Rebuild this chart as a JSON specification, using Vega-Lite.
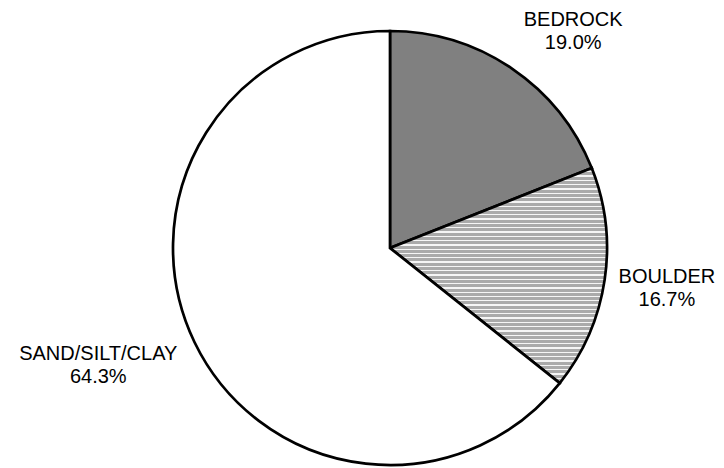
{
  "$schema": "https://vega.github.io/schema/vega-lite/v6.json",
  "width": 668,
  "height": 440,
  "autosize": {"type": "none"},
  "padding": {"left": 56, "top": 28, "right": 0, "bottom": 0},
  "background": "white",
  "view": {"stroke": null},
  "data": {
    "values": [
      {"type": "BEDROCK", "pct": 19.0, "ord": 1, "label": "BEDROCK\n19.0%"},
      {"type": "BOULDER", "pct": 16.7, "ord": 2, "label": "BOULDER\n16.7%"},
      {"type": "SAND/SILT/CLAY", "pct": 64.3, "ord": 3, "label": "SAND/SILT/CLAY\n64.3%"}
    ]
  },
  "encoding": {
    "theta": {"field": "pct", "type": "quantitative", "stack": true},
    "order": {"field": "ord", "type": "quantitative"}
  },
  "layer": [
    {
      "mark": {"type": "arc", "outerRadius": 217, "stroke": "black", "strokeWidth": 2.7, "strokeJoin": "miter"},
      "encoding": {
        "color": {
          "condition": [
            {"test": "datum.type === 'BOULDER'", "value": {"gradient": "linear", "x1": 0, "y1": 0, "x2": 0, "y2": 1, "stops": [
{"offset":0,"color":"#aaa"},{"offset":0.014,"color":"#aaa"},{"offset":0.014,"color":"#f5f5f5"},{"offset":0.02,"color":"#f5f5f5"},
{"offset":0.02,"color":"#aaa"},{"offset":0.034,"color":"#aaa"},{"offset":0.034,"color":"#f5f5f5"},{"offset":0.04,"color":"#f5f5f5"},
{"offset":0.04,"color":"#aaa"},{"offset":0.054,"color":"#aaa"},{"offset":0.054,"color":"#f5f5f5"},{"offset":0.06,"color":"#f5f5f5"},
{"offset":0.06,"color":"#aaa"},{"offset":0.074,"color":"#aaa"},{"offset":0.074,"color":"#f5f5f5"},{"offset":0.08,"color":"#f5f5f5"},
{"offset":0.08,"color":"#aaa"},{"offset":0.094,"color":"#aaa"},{"offset":0.094,"color":"#f5f5f5"},{"offset":0.1,"color":"#f5f5f5"},
{"offset":0.1,"color":"#aaa"},{"offset":0.114,"color":"#aaa"},{"offset":0.114,"color":"#f5f5f5"},{"offset":0.12,"color":"#f5f5f5"},
{"offset":0.12,"color":"#aaa"},{"offset":0.134,"color":"#aaa"},{"offset":0.134,"color":"#f5f5f5"},{"offset":0.14,"color":"#f5f5f5"},
{"offset":0.14,"color":"#aaa"},{"offset":0.154,"color":"#aaa"},{"offset":0.154,"color":"#f5f5f5"},{"offset":0.16,"color":"#f5f5f5"},
{"offset":0.16,"color":"#aaa"},{"offset":0.174,"color":"#aaa"},{"offset":0.174,"color":"#f5f5f5"},{"offset":0.18,"color":"#f5f5f5"},
{"offset":0.18,"color":"#aaa"},{"offset":0.194,"color":"#aaa"},{"offset":0.194,"color":"#f5f5f5"},{"offset":0.2,"color":"#f5f5f5"},
{"offset":0.2,"color":"#aaa"},{"offset":0.214,"color":"#aaa"},{"offset":0.214,"color":"#f5f5f5"},{"offset":0.22,"color":"#f5f5f5"},
{"offset":0.22,"color":"#aaa"},{"offset":0.234,"color":"#aaa"},{"offset":0.234,"color":"#f5f5f5"},{"offset":0.24,"color":"#f5f5f5"},
{"offset":0.24,"color":"#aaa"},{"offset":0.254,"color":"#aaa"},{"offset":0.254,"color":"#f5f5f5"},{"offset":0.26,"color":"#f5f5f5"},
{"offset":0.26,"color":"#aaa"},{"offset":0.274,"color":"#aaa"},{"offset":0.274,"color":"#f5f5f5"},{"offset":0.28,"color":"#f5f5f5"},
{"offset":0.28,"color":"#aaa"},{"offset":0.294,"color":"#aaa"},{"offset":0.294,"color":"#f5f5f5"},{"offset":0.3,"color":"#f5f5f5"},
{"offset":0.3,"color":"#aaa"},{"offset":0.314,"color":"#aaa"},{"offset":0.314,"color":"#f5f5f5"},{"offset":0.32,"color":"#f5f5f5"},
{"offset":0.32,"color":"#aaa"},{"offset":0.334,"color":"#aaa"},{"offset":0.334,"color":"#f5f5f5"},{"offset":0.34,"color":"#f5f5f5"},
{"offset":0.34,"color":"#aaa"},{"offset":0.354,"color":"#aaa"},{"offset":0.354,"color":"#f5f5f5"},{"offset":0.36,"color":"#f5f5f5"},
{"offset":0.36,"color":"#aaa"},{"offset":0.374,"color":"#aaa"},{"offset":0.374,"color":"#f5f5f5"},{"offset":0.38,"color":"#f5f5f5"},
{"offset":0.38,"color":"#aaa"},{"offset":0.394,"color":"#aaa"},{"offset":0.394,"color":"#f5f5f5"},{"offset":0.4,"color":"#f5f5f5"},
{"offset":0.4,"color":"#aaa"},{"offset":0.414,"color":"#aaa"},{"offset":0.414,"color":"#f5f5f5"},{"offset":0.42,"color":"#f5f5f5"},
{"offset":0.42,"color":"#aaa"},{"offset":0.434,"color":"#aaa"},{"offset":0.434,"color":"#f5f5f5"},{"offset":0.44,"color":"#f5f5f5"},
{"offset":0.44,"color":"#aaa"},{"offset":0.454,"color":"#aaa"},{"offset":0.454,"color":"#f5f5f5"},{"offset":0.46,"color":"#f5f5f5"},
{"offset":0.46,"color":"#aaa"},{"offset":0.474,"color":"#aaa"},{"offset":0.474,"color":"#f5f5f5"},{"offset":0.48,"color":"#f5f5f5"},
{"offset":0.48,"color":"#aaa"},{"offset":0.494,"color":"#aaa"},{"offset":0.494,"color":"#f5f5f5"},{"offset":0.5,"color":"#f5f5f5"},
{"offset":0.5,"color":"#aaa"},{"offset":0.514,"color":"#aaa"},{"offset":0.514,"color":"#f5f5f5"},{"offset":0.52,"color":"#f5f5f5"},
{"offset":0.52,"color":"#aaa"},{"offset":0.534,"color":"#aaa"},{"offset":0.534,"color":"#f5f5f5"},{"offset":0.54,"color":"#f5f5f5"},
{"offset":0.54,"color":"#aaa"},{"offset":0.554,"color":"#aaa"},{"offset":0.554,"color":"#f5f5f5"},{"offset":0.56,"color":"#f5f5f5"},
{"offset":0.56,"color":"#aaa"},{"offset":0.574,"color":"#aaa"},{"offset":0.574,"color":"#f5f5f5"},{"offset":0.58,"color":"#f5f5f5"},
{"offset":0.58,"color":"#aaa"},{"offset":0.594,"color":"#aaa"},{"offset":0.594,"color":"#f5f5f5"},{"offset":0.6,"color":"#f5f5f5"},
{"offset":0.6,"color":"#aaa"},{"offset":0.614,"color":"#aaa"},{"offset":0.614,"color":"#f5f5f5"},{"offset":0.62,"color":"#f5f5f5"},
{"offset":0.62,"color":"#aaa"},{"offset":0.634,"color":"#aaa"},{"offset":0.634,"color":"#f5f5f5"},{"offset":0.64,"color":"#f5f5f5"},
{"offset":0.64,"color":"#aaa"},{"offset":0.654,"color":"#aaa"},{"offset":0.654,"color":"#f5f5f5"},{"offset":0.66,"color":"#f5f5f5"},
{"offset":0.66,"color":"#aaa"},{"offset":0.674,"color":"#aaa"},{"offset":0.674,"color":"#f5f5f5"},{"offset":0.68,"color":"#f5f5f5"},
{"offset":0.68,"color":"#aaa"},{"offset":0.694,"color":"#aaa"},{"offset":0.694,"color":"#f5f5f5"},{"offset":0.7,"color":"#f5f5f5"},
{"offset":0.7,"color":"#aaa"},{"offset":0.714,"color":"#aaa"},{"offset":0.714,"color":"#f5f5f5"},{"offset":0.72,"color":"#f5f5f5"},
{"offset":0.72,"color":"#aaa"},{"offset":0.734,"color":"#aaa"},{"offset":0.734,"color":"#f5f5f5"},{"offset":0.74,"color":"#f5f5f5"},
{"offset":0.74,"color":"#aaa"},{"offset":0.754,"color":"#aaa"},{"offset":0.754,"color":"#f5f5f5"},{"offset":0.76,"color":"#f5f5f5"},
{"offset":0.76,"color":"#aaa"},{"offset":0.774,"color":"#aaa"},{"offset":0.774,"color":"#f5f5f5"},{"offset":0.78,"color":"#f5f5f5"},
{"offset":0.78,"color":"#aaa"},{"offset":0.794,"color":"#aaa"},{"offset":0.794,"color":"#f5f5f5"},{"offset":0.8,"color":"#f5f5f5"},
{"offset":0.8,"color":"#aaa"},{"offset":0.814,"color":"#aaa"},{"offset":0.814,"color":"#f5f5f5"},{"offset":0.82,"color":"#f5f5f5"},
{"offset":0.82,"color":"#aaa"},{"offset":0.834,"color":"#aaa"},{"offset":0.834,"color":"#f5f5f5"},{"offset":0.84,"color":"#f5f5f5"},
{"offset":0.84,"color":"#aaa"},{"offset":0.854,"color":"#aaa"},{"offset":0.854,"color":"#f5f5f5"},{"offset":0.86,"color":"#f5f5f5"},
{"offset":0.86,"color":"#aaa"},{"offset":0.874,"color":"#aaa"},{"offset":0.874,"color":"#f5f5f5"},{"offset":0.88,"color":"#f5f5f5"},
{"offset":0.88,"color":"#aaa"},{"offset":0.894,"color":"#aaa"},{"offset":0.894,"color":"#f5f5f5"},{"offset":0.9,"color":"#f5f5f5"},
{"offset":0.9,"color":"#aaa"},{"offset":0.914,"color":"#aaa"},{"offset":0.914,"color":"#f5f5f5"},{"offset":0.92,"color":"#f5f5f5"},
{"offset":0.92,"color":"#aaa"},{"offset":0.934,"color":"#aaa"},{"offset":0.934,"color":"#f5f5f5"},{"offset":0.94,"color":"#f5f5f5"},
{"offset":0.94,"color":"#aaa"},{"offset":0.954,"color":"#aaa"},{"offset":0.954,"color":"#f5f5f5"},{"offset":0.96,"color":"#f5f5f5"},
{"offset":0.96,"color":"#aaa"},{"offset":0.974,"color":"#aaa"},{"offset":0.974,"color":"#f5f5f5"},{"offset":0.98,"color":"#f5f5f5"},
{"offset":0.98,"color":"#aaa"},{"offset":0.994,"color":"#aaa"},{"offset":0.994,"color":"#f5f5f5"},{"offset":1,"color":"#f5f5f5"}
            ]}},
            {"test": "datum.type === 'BEDROCK'", "value": "#808080"}
          ],
          "value": "white"
        }
      }
    },
    {
      "mark": {"type": "text", "radius": 285, "dx": 23, "dy": 8, "font": "Liberation Sans", "fontSize": 20, "lineHeight": 23, "lineBreak": "\n", "align": "center", "baseline": "middle", "color": "black"},
      "encoding": {
        "text": {"condition": {"test": "datum.type === 'BEDROCK'", "field": "label"}, "value": ""}
      }
    },
    {
      "mark": {"type": "text", "radius": 285, "dx": -5, "dy": -13, "font": "Liberation Sans", "fontSize": 20, "lineHeight": 23, "lineBreak": "\n", "align": "center", "baseline": "middle", "color": "black"},
      "encoding": {
        "text": {"condition": {"test": "datum.type === 'BOULDER'", "field": "label"}, "value": ""}
      }
    },
    {
      "mark": {"type": "text", "radius": 285, "dx": -35, "dy": -18, "font": "Liberation Sans", "fontSize": 20, "lineHeight": 23, "lineBreak": "\n", "align": "center", "baseline": "middle", "color": "black"},
      "encoding": {
        "text": {"condition": {"test": "datum.type === 'SAND/SILT/CLAY'", "field": "label"}, "value": ""}
      }
    }
  ]
}
